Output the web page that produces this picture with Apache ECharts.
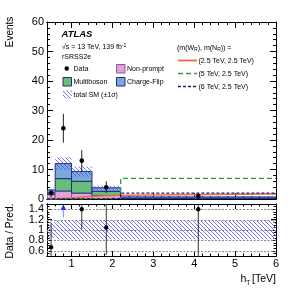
<!DOCTYPE html>
<html><head><meta charset="utf-8">
<script src="https://cdn.jsdelivr.net/npm/echarts@6/dist/echarts.min.js"></script>
<style>html,body{margin:0;padding:0;background:#fff}#c{width:307px;height:292px}</style>
</head><body><div id="c"></div>
<script>
// ---- data ----
const binEdges = [0.4, 0.6, 1.0, 1.5, 2.2, 6.0];
const binCenters = [0.5, 0.8, 1.25, 1.85, 4.1];
const nonPrompt = [1.5, 2.7, 2.0, 1.2, 0.1];
const multiboson = [0.6, 4.2, 4.0, 1.4, 0.2];
const chargeFlip = [0.9, 5.1, 3.3, 1.2, 0.4];
const bkgRelUnc = [0.15, 0.18, 0.18, 0.18, 0.18];
const dataValues = [2, 24, 13, 4, 1];
const dataErrors = [1.4, 4.9, 3.6, 2.0, 1.0];
const ratioValues = [0.67, 2.0, 1.4, 1.05, 1.4];
const ratioErrors = [0.47, 0.41, 0.39, 0.53, 1.4];
const sigWR25 = [0.1, 0.3, 0.9, 1.3, 1.7];
const sigWR5 = [0.02, 0.05, 0.1, 0.2, 7.0];
const sigWR6 = [0.01, 0.02, 0.05, 0.1, 2.0];
const xTicks = [1, 2, 3, 4, 5, 6];
const ratioYTicks = [0.6, 0.8, 1, 1.2, 1.4];
const mainYRange = [0, 60];
const ratioYRange = [0.5, 1.5];

// ---- style ----
const FONT = 'Liberation Sans';
const COL = {
  np: '#e0a4d9', npLine: '#9c4fa8',
  mb: '#69bd7a', cf: '#7aabd6', line: '#1f2b8c',
  s25: '#ee6a3c', s5: '#2e9a48', s6: '#1a1a80'
};
function hatchPattern() {
  const c = document.createElement('canvas'); c.width = 4; c.height = 4;
  const g = c.getContext('2d');
  g.strokeStyle = 'rgba(80,80,236,0.8)'; g.lineWidth = 1;
  g.beginPath(); g.moveTo(-1, -1); g.lineTo(5, 5); g.stroke();
  g.beginPath(); g.moveTo(3, -1); g.lineTo(5, 1); g.stroke();
  g.beginPath(); g.moveTo(-1, 3); g.lineTo(1, 5); g.stroke();
  return { image: c, repeat: 'repeat' };
}
const HATCH = hatchPattern();

const xMin = binEdges[0], xMax = binEdges[binEdges.length - 1];
const xMinor = [];
for (let k = Math.round(xMin * 5) + 1; k < Math.round(xMax * 5); k++) { if (k % 5 !== 0) xMinor.push(k / 5); }
const rMinor = [];
for (let k = Math.round(ratioYRange[0] * 20) + 1; k < Math.round(ratioYRange[1] * 20); k++) { if (k % 4 !== 0) rMinor.push(k / 20); }
// ratio labels split over two axes so none gets hidden as overlapping
const ratioLabelsA = ratioYTicks.filter((v, k) => k % 2 === 0);
const ratioLabelsB = ratioYTicks.filter((v, k) => k % 2 === 1);

function xAx(grid, pos, values, len, labels) {
  return {
    type: 'value', gridIndex: grid, position: pos, min: xMin, max: xMax,
    axisLine: { show: true, onZero: false, lineStyle: { color: '#000', width: 1 } },
    axisTick: { show: true, inside: true, length: len, customValues: values, lineStyle: { color: '#000', width: 1 } },
    axisLabel: labels ? { show: true, customValues: values, fontSize: 11, fontFamily: FONT, color: '#000', margin: 2, hideOverlap: false } : { show: false },
    splitLine: { show: false }
  };
}
function rAx(pos, values, len, labels) {
  return {
    type: 'value', gridIndex: 1, position: pos, min: ratioYRange[0], max: ratioYRange[1],
    axisLine: { show: true, onZero: false, lineStyle: { color: '#000', width: 1 } },
    axisTick: { show: true, inside: true, length: len, customValues: values, lineStyle: { color: '#000', width: 1 } },
    axisLabel: labels ? { show: true, customValues: labels, fontSize: 11, fontFamily: FONT, color: '#000', margin: 3, hideOverlap: false } : { show: false },
    splitLine: { show: false }
  };
}
function mAx(pos, labels) {
  return {
    type: 'value', gridIndex: 0, position: pos, min: mainYRange[0], max: mainYRange[1], interval: 10,
    axisLine: { show: true, onZero: false, lineStyle: { color: '#000', width: 1 } },
    axisTick: { show: true, inside: true, length: 6, lineStyle: { color: '#000', width: 1 } },
    minorTick: { show: true, splitNumber: 5, length: 3, lineStyle: { color: '#000', width: 1 } },
    axisLabel: labels ? { show: true, fontSize: 11, fontFamily: FONT, color: '#000', margin: 3 } : { show: false },
    splitLine: { show: false }, minorSplitLine: { show: false }
  };
}

const binData = binCenters.map((c, i) => [c, dataValues[i], i]);
const ratioData = binCenters.map((c, i) => [c, 1, i]);

function stackRender(params, api) {
  const i = api.value(2);
  const x0 = binEdges[i], x1 = binEdges[i + 1];
  const comps = [[nonPrompt[i], COL.np, COL.npLine], [multiboson[i], COL.mb, COL.line], [chargeFlip[i], COL.cf, COL.line]];
  let base = 0; const children = [];
  for (const [v, fill, stroke] of comps) {
    const p0 = api.coord([x0, base]); const p1 = api.coord([x1, base + v]);
    children.push({ type: 'rect', shape: { x: p0[0], y: p1[1], width: p1[0] - p0[0], height: p0[1] - p1[1] }, style: { fill, stroke, lineWidth: 1 } });
    base += v;
  }
  return { type: 'group', children };
}
function hatchRender(params, api) {
  const i = api.value(2);
  const tot = nonPrompt[i] + multiboson[i] + chargeFlip[i];
  const p0 = api.coord([binEdges[i], tot * (1 - bkgRelUnc[i])]);
  const p1 = api.coord([binEdges[i + 1], tot * (1 + bkgRelUnc[i])]);
  return { type: 'rect', shape: { x: p0[0], y: p1[1], width: p1[0] - p0[0], height: p0[1] - p1[1] }, style: { fill: HATCH } };
}
function dataRender(params, api) {
  const i = api.value(2);
  const c = api.coord([binCenters[i], dataValues[i]]);
  const lo = api.coord([binCenters[i], dataValues[i] - dataErrors[i]]);
  const hi = api.coord([binCenters[i], dataValues[i] + dataErrors[i]]);
  return { type: 'group', children: [
    { type: 'line', shape: { x1: c[0], y1: lo[1], x2: c[0], y2: hi[1] }, style: { stroke: '#222', lineWidth: 1 } },
    { type: 'circle', shape: { cx: c[0], cy: c[1], r: 2.3 }, style: { fill: '#000' } }
  ] };
}
function ratioBandRender(params, api) {
  const i = api.value(2);
  const p0 = api.coord([binEdges[i], 1 - bkgRelUnc[i]]);
  const p1 = api.coord([binEdges[i + 1], 1 + bkgRelUnc[i]]);
  return { type: 'rect', shape: { x: p0[0], y: p1[1], width: p1[0] - p0[0], height: p0[1] - p1[1] }, style: { fill: HATCH } };
}
function ratioPointRender(params, api) {
  const i = api.value(2);
  const v = ratioValues[i];
  if (v > ratioYRange[1]) {
    const tip = api.coord([binCenters[i], ratioYRange[1]]);
    const x = tip[0], y = tip[1] + 0.5;
    return { type: 'group', children: [
      { type: 'line', shape: { x1: x, y1: y + 5, x2: x, y2: y + 13 }, style: { stroke: '#8f9bff', lineWidth: 1.2 } },
      { type: 'polygon', shape: { points: [[x, y], [x - 2.8, y + 5.5], [x + 2.8, y + 5.5]] }, style: { fill: '#1a33ff' } }
    ] };
  }
  const c = api.coord([binCenters[i], v]);
  const lo = api.coord([binCenters[i], v - ratioErrors[i]]);
  const hi = api.coord([binCenters[i], v + ratioErrors[i]]);
  return { type: 'group', children: [
    { type: 'line', shape: { x1: c[0], y1: lo[1], x2: c[0], y2: hi[1] }, style: { stroke: '#333', lineWidth: 1 } },
    { type: 'circle', shape: { cx: c[0], cy: c[1], r: 2.2 }, style: { fill: '#000' } }
  ] };
}
function gridLineRender(params, api) {
  const v = api.value(1);
  const p0 = api.coord([xMin, v]), p1 = api.coord([xMax, v]);
  const y = Math.round(p0[1]) + 0.5;
  return { type: 'line', shape: { x1: p0[0], y1: y, x2: p1[0], y2: y }, style: { stroke: '#8a8a8a', lineWidth: 1, lineDash: [2, 1.5] } };
}
function stepData(vals) {
  const d = vals.map((v, i) => [binEdges[i], v]);
  d.push([binEdges[binEdges.length - 1], vals[vals.length - 1]]);
  return d;
}

function txt(x, y, text, size, opt) {
  opt = opt || {};
  return { type: 'text', x, y, rotation: opt.rotation || 0, z: 100,
    style: { text, fontSize: size, fontFamily: FONT, fontWeight: opt.weight || 'normal', fontStyle: opt.fstyle || 'normal',
      fill: '#000', align: opt.align || 'left', verticalAlign: opt.va || 'middle', rich: opt.rich } };
}
const LS = 7;
const graphics = [
  txt(10, 32, 'Events', 10, { rotation: Math.PI / 2, align: 'center' }),
  txt(10, 231, 'Data / Pred.', 10.3, { rotation: Math.PI / 2, align: 'center' }),
  txt(61.5, 34, 'ATLAS', 9.5, { weight: 'bold', fstyle: 'italic' }),
  txt(62, 47.5, '{n|√s = 13 TeV, 139 fb}{p|-1}', LS, { rich: { n: { fontSize: LS, fontFamily: FONT, lineHeight: 9 }, p: { fontSize: 5, fontFamily: FONT, lineHeight: 5, verticalAlign: 'top' } } }),
  txt(62, 57, 'rSRSS2e', LS),
  // left legend
  { type: 'circle', shape: { cx: 66.7, cy: 68.5, r: 2.2 }, style: { fill: '#000' }, z: 100 },
  txt(73.5, 69, 'Data', LS),
  { type: 'rect', shape: { x: 116.5, y: 64.5, width: 8.5, height: 8.5 }, style: { fill: COL.np, stroke: COL.npLine, lineWidth: 1 }, z: 100 },
  txt(127, 69, 'Non-prompt', LS),
  { type: 'rect', shape: { x: 63, y: 77.5, width: 8.5, height: 8.5 }, style: { fill: COL.mb, stroke: COL.line, lineWidth: 1 }, z: 100 },
  txt(73.5, 82, 'Multiboson', LS),
  { type: 'rect', shape: { x: 116.5, y: 77.5, width: 8.5, height: 8.5 }, style: { fill: COL.cf, stroke: COL.line, lineWidth: 1 }, z: 100 },
  txt(127, 82, 'Charge-Flip', LS),
  { type: 'rect', shape: { x: 63, y: 90.5, width: 9, height: 8 }, style: { fill: HATCH }, z: 100 },
  txt(73.5, 95.5, 'total SM (±1σ)', LS),
  // right legend
  txt(177, 48, '{n|(m(W}{s|R}{n|), m(N}{s|R}{n|)) =}', LS, { rich: { n: { fontSize: LS, fontFamily: FONT, lineHeight: 9 }, s: { fontSize: 5, fontFamily: FONT, lineHeight: 5, verticalAlign: 'bottom' } } }),
  { type: 'line', shape: { x1: 178, y1: 60.5, x2: 197, y2: 60.5 }, style: { stroke: COL.s25, lineWidth: 1.8 }, z: 100 },
  txt(198.5, 61, '(2.5 TeV, 2.5 TeV)', LS),
  { type: 'line', shape: { x1: 178, y1: 73.5, x2: 197, y2: 73.5 }, style: { stroke: COL.s5, lineWidth: 1.3, lineDash: [5, 3] }, z: 100 },
  txt(198.5, 74, '(5 TeV, 2.5 TeV)', LS),
  { type: 'line', shape: { x1: 178, y1: 86.5, x2: 197, y2: 86.5 }, style: { stroke: COL.s6, lineWidth: 1.3, lineDash: [3, 2] }, z: 100 },
  txt(198.5, 87, '(6 TeV, 2.5 TeV)', LS),
  // x-axis title
  txt(240.5, 279, 'h', 10.5),
  txt(246.3, 283, 'T', 6.5),
  txt(276, 279, '[TeV]', 10.5, { align: 'right' })
];

const option = {
  animation: false,
  backgroundColor: '#fff',
  grid: [
    { left: 47, top: 22, width: 229, height: 177 },
    { left: 47, top: 204, width: 229, height: 52 }
  ],
  xAxis: [
    xAx(0, 'bottom', xTicks, 6, false),
    xAx(0, 'bottom', xMinor, 3, false),
    xAx(0, 'top', xTicks, 6, false),
    xAx(0, 'top', xMinor, 3, false),
    xAx(1, 'bottom', xTicks, 5, true),
    xAx(1, 'bottom', xMinor, 2.5, false),
    xAx(1, 'top', xTicks, 5, false),
    xAx(1, 'top', xMinor, 2.5, false)
  ],
  yAxis: [
    mAx('left', true),
    mAx('right', false),
    rAx('left', ratioYTicks, 5, ratioLabelsA),
    rAx('left', rMinor, 2.5, ratioLabelsB),
    rAx('right', ratioYTicks, 5, null),
    rAx('right', rMinor, 2.5, null)
  ],
  series: [
    { type: 'custom', xAxisIndex: 0, yAxisIndex: 0, data: binData, renderItem: stackRender, clip: true, z: 2, silent: true },
    { type: 'custom', xAxisIndex: 0, yAxisIndex: 0, data: binData, renderItem: hatchRender, clip: true, z: 3, silent: true },
    { type: 'line', xAxisIndex: 0, yAxisIndex: 0, step: 'end', data: stepData(sigWR25), showSymbol: false, symbol: 'none', lineStyle: { color: COL.s25, width: 1.5 }, z: 4, silent: true },
    { type: 'line', xAxisIndex: 0, yAxisIndex: 0, step: 'end', data: stepData(sigWR5), showSymbol: false, symbol: 'none', lineStyle: { color: COL.s5, width: 1.3, type: [5, 3] }, z: 4, silent: true },
    { type: 'line', xAxisIndex: 0, yAxisIndex: 0, step: 'end', data: stepData(sigWR6), showSymbol: false, symbol: 'none', lineStyle: { color: COL.s6, width: 1.3, type: [3, 2] }, z: 4, silent: true },
    { type: 'custom', xAxisIndex: 0, yAxisIndex: 0, data: binData, renderItem: dataRender, clip: true, z: 5, silent: true },
    { type: 'custom', xAxisIndex: 4, yAxisIndex: 2, data: ratioYTicks.map((v, k) => [xMin, v, k]), renderItem: gridLineRender, clip: false, z: 1, silent: true },
    { type: 'custom', xAxisIndex: 4, yAxisIndex: 2, data: ratioData, renderItem: ratioBandRender, clip: true, z: 2, silent: true },
    { type: 'custom', xAxisIndex: 4, yAxisIndex: 2, data: ratioData, renderItem: ratioPointRender, clip: true, z: 5, silent: true }
  ],
  graphic: graphics
};
const chart = echarts.init(document.getElementById('c'), null, { renderer: 'canvas', width: 307, height: 292 });
chart.setOption(option);
</script>
</body></html>
